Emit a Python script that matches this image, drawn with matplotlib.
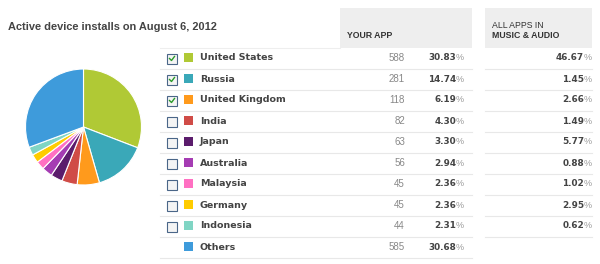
import matplotlib.pyplot as plt
from matplotlib.patches import Rectangle

# ── data ──
countries = ['United States', 'Russia', 'United Kingdom', 'India', 'Japan',
             'Australia', 'Malaysia', 'Germany', 'Indonesia', 'Others']
installs = [588, 281, 118, 82, 63, 56, 45, 45, 44, 585]
app_pct = ['30.83', '14.74', '6.19', '4.30', '3.30', '2.94', '2.36', '2.36', '2.31', '30.68']
category_pct = ['46.67', '1.45', '2.66', '1.49', '5.77', '0.88', '1.02', '2.95', '0.62']
checked = [True, True, True, False, False, False, False, False, False]
colors = ['#b0c935', '#3aa8b8', '#ff9a1c', '#d04c47', '#5b1c6c',
          '#a53cb3', '#ff70c2', '#ffcc00', '#80d5c4', '#3e9bdb']

W, H = 600, 264
fig = plt.figure(figsize=(W / 100, H / 100), dpi=100)
ax = fig.add_axes([0, 0, 1, 1])
ax.set_xlim(0, W)
ax.set_ylim(H, 0)
ax.axis('off')

font = 'DejaVu Sans'
ax.text(8, 27, 'Active device installs on August 6, 2012', fontsize=7.9,
        fontweight='bold', color='#444444', va='center', family='Liberation Sans')

# header boxes
ax.add_patch(Rectangle((340, 8), 132, 40, color='#eeeeee', lw=0))
ax.add_patch(Rectangle((485, 8), 107, 40, color='#eeeeee', lw=0))
ax.text(347, 36, 'YOUR APP', fontsize=6.3, fontweight='bold', color='#333333',
        va='center', family='Liberation Sans')
ax.text(492, 25, 'ALL APPS IN', fontsize=6.3, color='#333333', va='center',
        family='Liberation Sans')
ax.text(492, 35, 'MUSIC & AUDIO', fontsize=6.3, fontweight='bold', color='#333333',
        va='center', family='Liberation Sans')

ax.plot([160, 340], [48, 48], color='#eeeeee', lw=0.8)

row0, step = 58, 21
for i, name in enumerate(countries):
    y = row0 + i * step
    if i < len(checked):
        ax.add_patch(Rectangle((167, y - 4.5), 10, 10, facecolor='#f4f4f4',
                               edgecolor='#4a6688', lw=0.8))
        if checked[i]:
            ax.plot([169.5, 171.5, 174.5], [y + 0.5, y + 2.5, y - 1.5], color='#2a9a2a', lw=1.0)
    ax.add_patch(Rectangle((184, y - 5), 9, 9, color=colors[i], lw=0))
    ax.text(200, y, name, fontsize=6.8, fontweight='bold', color='#444444',
            va='center', family=font)
    ax.text(405, y, str(installs[i]), fontsize=7, color='#888888', ha='right',
            va='center', family='Liberation Sans')
    ax.text(456, y, app_pct[i], fontsize=6.4, fontweight='bold', color='#444444',
            ha='right', va='center', family=font)
    ax.text(464, y, '%', fontsize=6.5, color='#999999', ha='right', va='center',
            family='Liberation Sans')
    ax.plot([160, 472], [y + 11, y + 11], color='#e8e8e8', lw=0.8)
    if i < len(category_pct):
        ax.text(584, y, category_pct[i], fontsize=6.4, fontweight='bold', color='#444444',
                ha='right', va='center', family=font)
        ax.text(592, y, '%', fontsize=6.5, color='#999999', ha='right', va='center',
                family='Liberation Sans')
        ax.plot([485, 592], [y + 11, y + 11], color='#e8e8e8', lw=0.8)

# pie
r = 58
pax = fig.add_axes([(83.5 - r) / W, 1 - (127 + r) / H, 2 * r / W, 2 * r / H])
pax.pie(installs, colors=colors, startangle=90, counterclock=False,
        wedgeprops=dict(edgecolor='white', linewidth=0.8))
pax.set_xlim(-1, 1)
pax.set_ylim(-1, 1)
pax.set_aspect('equal')

fig.savefig('out.png', dpi=100)
